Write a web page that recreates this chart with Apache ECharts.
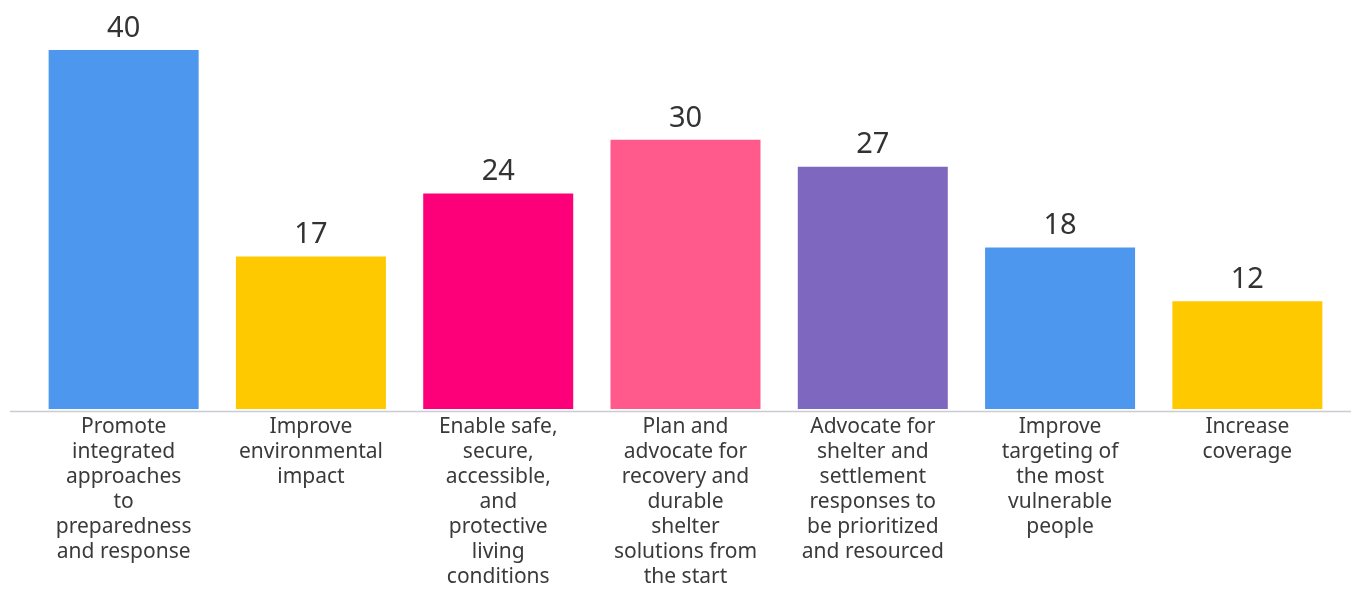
<!DOCTYPE html>
<html>
<head>
<meta charset="utf-8">
<script src="https://cdn.jsdelivr.net/npm/echarts@6/dist/echarts.min.js"></script>
<style>
  html, body { margin: 0; padding: 0; background: #fff; }
  #chart { width: 1351px; height: 590px; }
</style>
</head>
<body>
<div id="chart"></div>
<script>
var categories = [
    'Promote\nintegrated\napproaches\nto\npreparedness\nand response',
    'Improve\nenvironmental\nimpact',
    'Enable safe,\nsecure,\naccessible,\nand\nprotective\nliving\nconditions',
    'Plan and\nadvocate for\nrecovery and\ndurable\nshelter\nsolutions from\nthe start',
    'Advocate for\nshelter and\nsettlement\nresponses to\nbe prioritized\nand resourced',
    'Improve\ntargeting of\nthe most\nvulnerable\npeople',
    'Increase\ncoverage'
];
var values = [40, 17, 24, 30, 27, 18, 12];
var colors = ['#4d97ee', '#ffc900', '#fd0079', '#ff5a8b', '#7e68bf', '#4d97ee', '#ffc900'];

var chart = echarts.init(document.getElementById('chart'));

chart.setOption({
    animation: false,
    grid: { left: 30, right: 10, top: 50, bottom: 180 },
    // baseline runs almost edge to edge in the original
    graphic: [{
        type: 'line',
        shape: { x1: 10, y1: 411.5, x2: 1351, y2: 411.5 },
        style: { stroke: '#c9ccd3', lineWidth: 1.5 },
        z: -1
    }],
    xAxis: {
        type: 'category',
        data: categories,
        axisTick: { show: false },
        axisLine: { show: false },
        axisLabel: {
            interval: 0,
            margin: 6,
            color: '#3a3a3a',
            fontFamily: 'Noto Sans',
            fontSize: 21,
            lineHeight: 25
        }
    },
    yAxis: {
        type: 'value',
        min: 0,
        max: 40,
        show: false,
        splitLine: { show: false }
    },
    series: [{
        type: 'bar',
        barWidth: 150,
        data: values.map(function (v, i) {
            return { value: v, itemStyle: { color: colors[i] } };
        }),
        label: {
            show: true,
            position: 'top',
            distance: 7,
            color: '#333',
            fontFamily: 'Noto Sans',
            fontSize: 29
        }
    }]
});
</script>
</body>
</html>
